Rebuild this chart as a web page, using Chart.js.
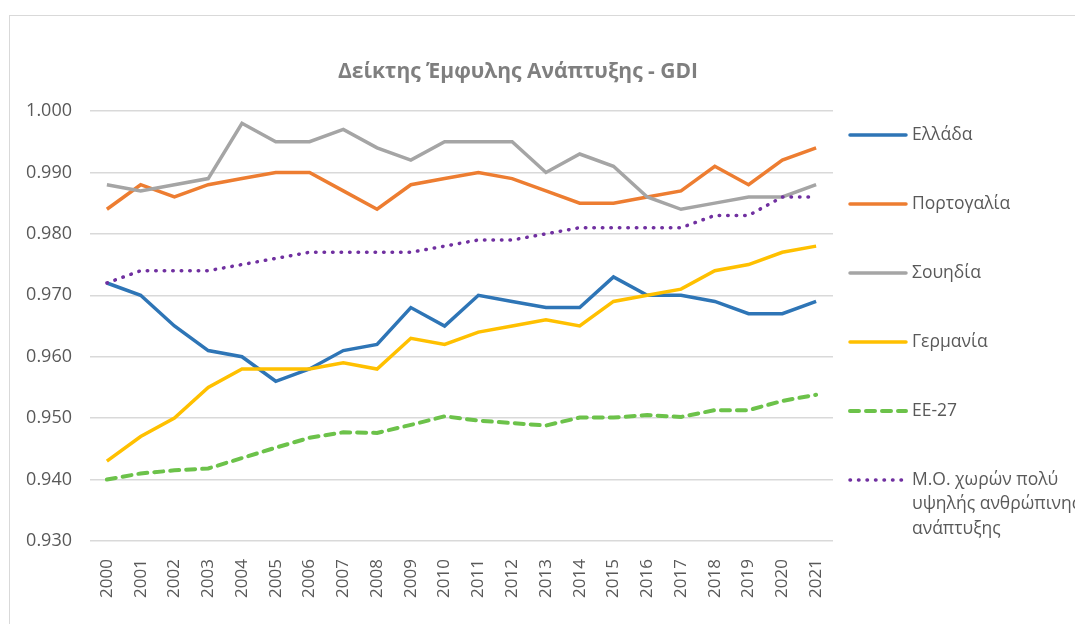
<!DOCTYPE html>
<html>
<head>
<meta charset="utf-8">
<script src="https://cdn.jsdelivr.net/npm/chart.js@4.4.1/dist/chart.umd.min.js"></script>
<style>
  body { margin: 0; overflow: hidden; background: #fff; }
  #frame {
    position: absolute; left: 9px; top: 15px;
    width: 1090px; height: 630px;
    border: 1px solid #d9d9d9;
  }
</style>
</head>
<body>
<div id="frame"><canvas id="myChart" width="1090" height="630"></canvas></div>
<script>
const years = ["2000", "2001", "2002", "2003", "2004", "2005", "2006", "2007", "2008", "2009", "2010",
  "2011", "2012", "2013", "2014", "2015", "2016", "2017", "2018", "2019", "2020", "2021"];

const greece = [0.972, 0.970, 0.965, 0.961, 0.960, 0.956, 0.958, 0.961, 0.962, 0.968, 0.965,
  0.970, 0.969, 0.968, 0.968, 0.973, 0.970, 0.970, 0.969, 0.967, 0.967, 0.969];
const portugal = [0.984, 0.988, 0.986, 0.988, 0.989, 0.990, 0.990, 0.987, 0.984, 0.988, 0.989,
  0.990, 0.989, 0.987, 0.985, 0.985, 0.986, 0.987, 0.991, 0.988, 0.992, 0.994];
const sweden = [0.988, 0.987, 0.988, 0.989, 0.998, 0.995, 0.995, 0.997, 0.994, 0.992, 0.995,
  0.995, 0.995, 0.990, 0.993, 0.991, 0.986, 0.984, 0.985, 0.986, 0.986, 0.988];
const germany = [0.943, 0.947, 0.950, 0.955, 0.958, 0.958, 0.958, 0.959, 0.958, 0.963, 0.962,
  0.964, 0.965, 0.966, 0.965, 0.969, 0.970, 0.971, 0.974, 0.975, 0.977, 0.978];
const eu27 = [0.940, 0.941, 0.9415, 0.9418, 0.9435, 0.9452, 0.9468, 0.9477, 0.9476, 0.9489, 0.9503,
  0.9496, 0.9492, 0.9488, 0.9501, 0.9501, 0.9505, 0.9502, 0.9513, 0.9513, 0.9528, 0.9538];
const veryHighHdi = [0.972, 0.974, 0.974, 0.974, 0.975, 0.976, 0.977, 0.977, 0.977, 0.977, 0.978,
  0.979, 0.979, 0.980, 0.981, 0.981, 0.981, 0.981, 0.983, 0.983, 0.986, 0.986];

const yTicks = [0.93, 0.94, 0.95, 0.96, 0.97, 0.98, 0.99, 1.0];

const chartTitle = "Δείκτης Έμφυλης Ανάπτυξης - GDI";
const textGrey = "#595959";
const font = "'Open Sans', 'Noto Sans', sans-serif";

// title + legend drawn by hand so they sit where Excel put them
const sideLegend = {
  id: "sideLegend",
  afterDraw(chart) {
    const ctx = chart.ctx;
    ctx.save();
    ctx.fillStyle = "#7f7f7f";
    ctx.font = "bold 21px " + font;
    ctx.textAlign = "center";
    ctx.textBaseline = "middle";
    ctx.fillText(chartTitle, 508, 56);

    ctx.font = "17.5px " + font;
    ctx.textAlign = "left";
    let y = 119;
    chart.data.datasets.forEach(function (ds) {
      ctx.strokeStyle = ds.borderColor;
      ctx.lineWidth = ds.borderWidth;
      ctx.lineCap = ds.borderCapStyle || "round";
      ctx.setLineDash(ds.borderDash || []);
      ctx.beginPath();
      ctx.moveTo(840, y);
      ctx.lineTo(896, y);
      ctx.stroke();
      ctx.setLineDash([]);
      ctx.fillStyle = textGrey;
      const lines = [].concat(ds.label);
      lines.forEach(function (line, i) {
        ctx.fillText(line, 902, y + i * 24.5);
      });
      y += 69;
    });
    ctx.restore();
  },
};

const ctx = document.getElementById("myChart").getContext("2d");
const myChart = new Chart(ctx, {
  type: "line",
  data: {
    labels: years,
    datasets: [
      { label: "Ελλάδα", data: greece, borderColor: "#2e75b6", borderWidth: 3.5, order: 5 },
      { label: "Πορτογαλία", data: portugal, borderColor: "#ed7d31", borderWidth: 3.5, order: 4 },
      { label: "Σουηδία", data: sweden, borderColor: "#a5a5a5", borderWidth: 3.5, order: 3 },
      { label: "Γερμανία", data: germany, borderColor: "#ffc000", borderWidth: 3.5, order: 2 },
      {
        label: "ΕΕ-27", data: eu27, borderColor: "#6cc24a", borderWidth: 4,
        borderDash: [9, 7], borderCapStyle: "round", order: 1,
      },
      {
        label: ["Μ.Ο. χωρών πολύ", "υψηλής ανθρώπινης", "ανάπτυξης"], data: veryHighHdi,
        borderColor: "#7030a0", borderWidth: 3.5,
        borderDash: [0.5, 8], borderCapStyle: "round", order: 0,
      },
    ],
  },
  options: {
    responsive: false,
    animation: false,
    elements: { point: { radius: 0 }, line: { tension: 0 } },
    layout: { padding: { top: 95, right: 267, left: 0, bottom: 0 } },
    plugins: {
      legend: { display: false },
      title: { display: false },
      tooltip: { enabled: false },
    },
    scales: {
      x: {
        offset: true,
        grid: { display: false },
        border: { display: false },
        ticks: {
          minRotation: 90,
          maxRotation: 90,
          padding: 10,
          color: textGrey,
          font: { family: font, size: 17 },
        },
        afterFit(scale) { scale.height = 105; },
      },
      y: {
        min: 0.93,
        max: 1.0,
        afterBuildTicks(scale) { scale.ticks = yTicks.map(function (v) { return { value: v }; }); },
        grid: { color: "#d9d9d9", lineWidth: 1.5, drawTicks: false },
        border: { display: false },
        ticks: {
          padding: 18,
          color: textGrey,
          font: { family: font, size: 18 },
          callback: function (v) { return v.toFixed(3); },
        },
        afterFit(scale) { scale.width = 80; },
      },
    },
  },
  plugins: [sideLegend],
});
</script>
</body>
</html>
